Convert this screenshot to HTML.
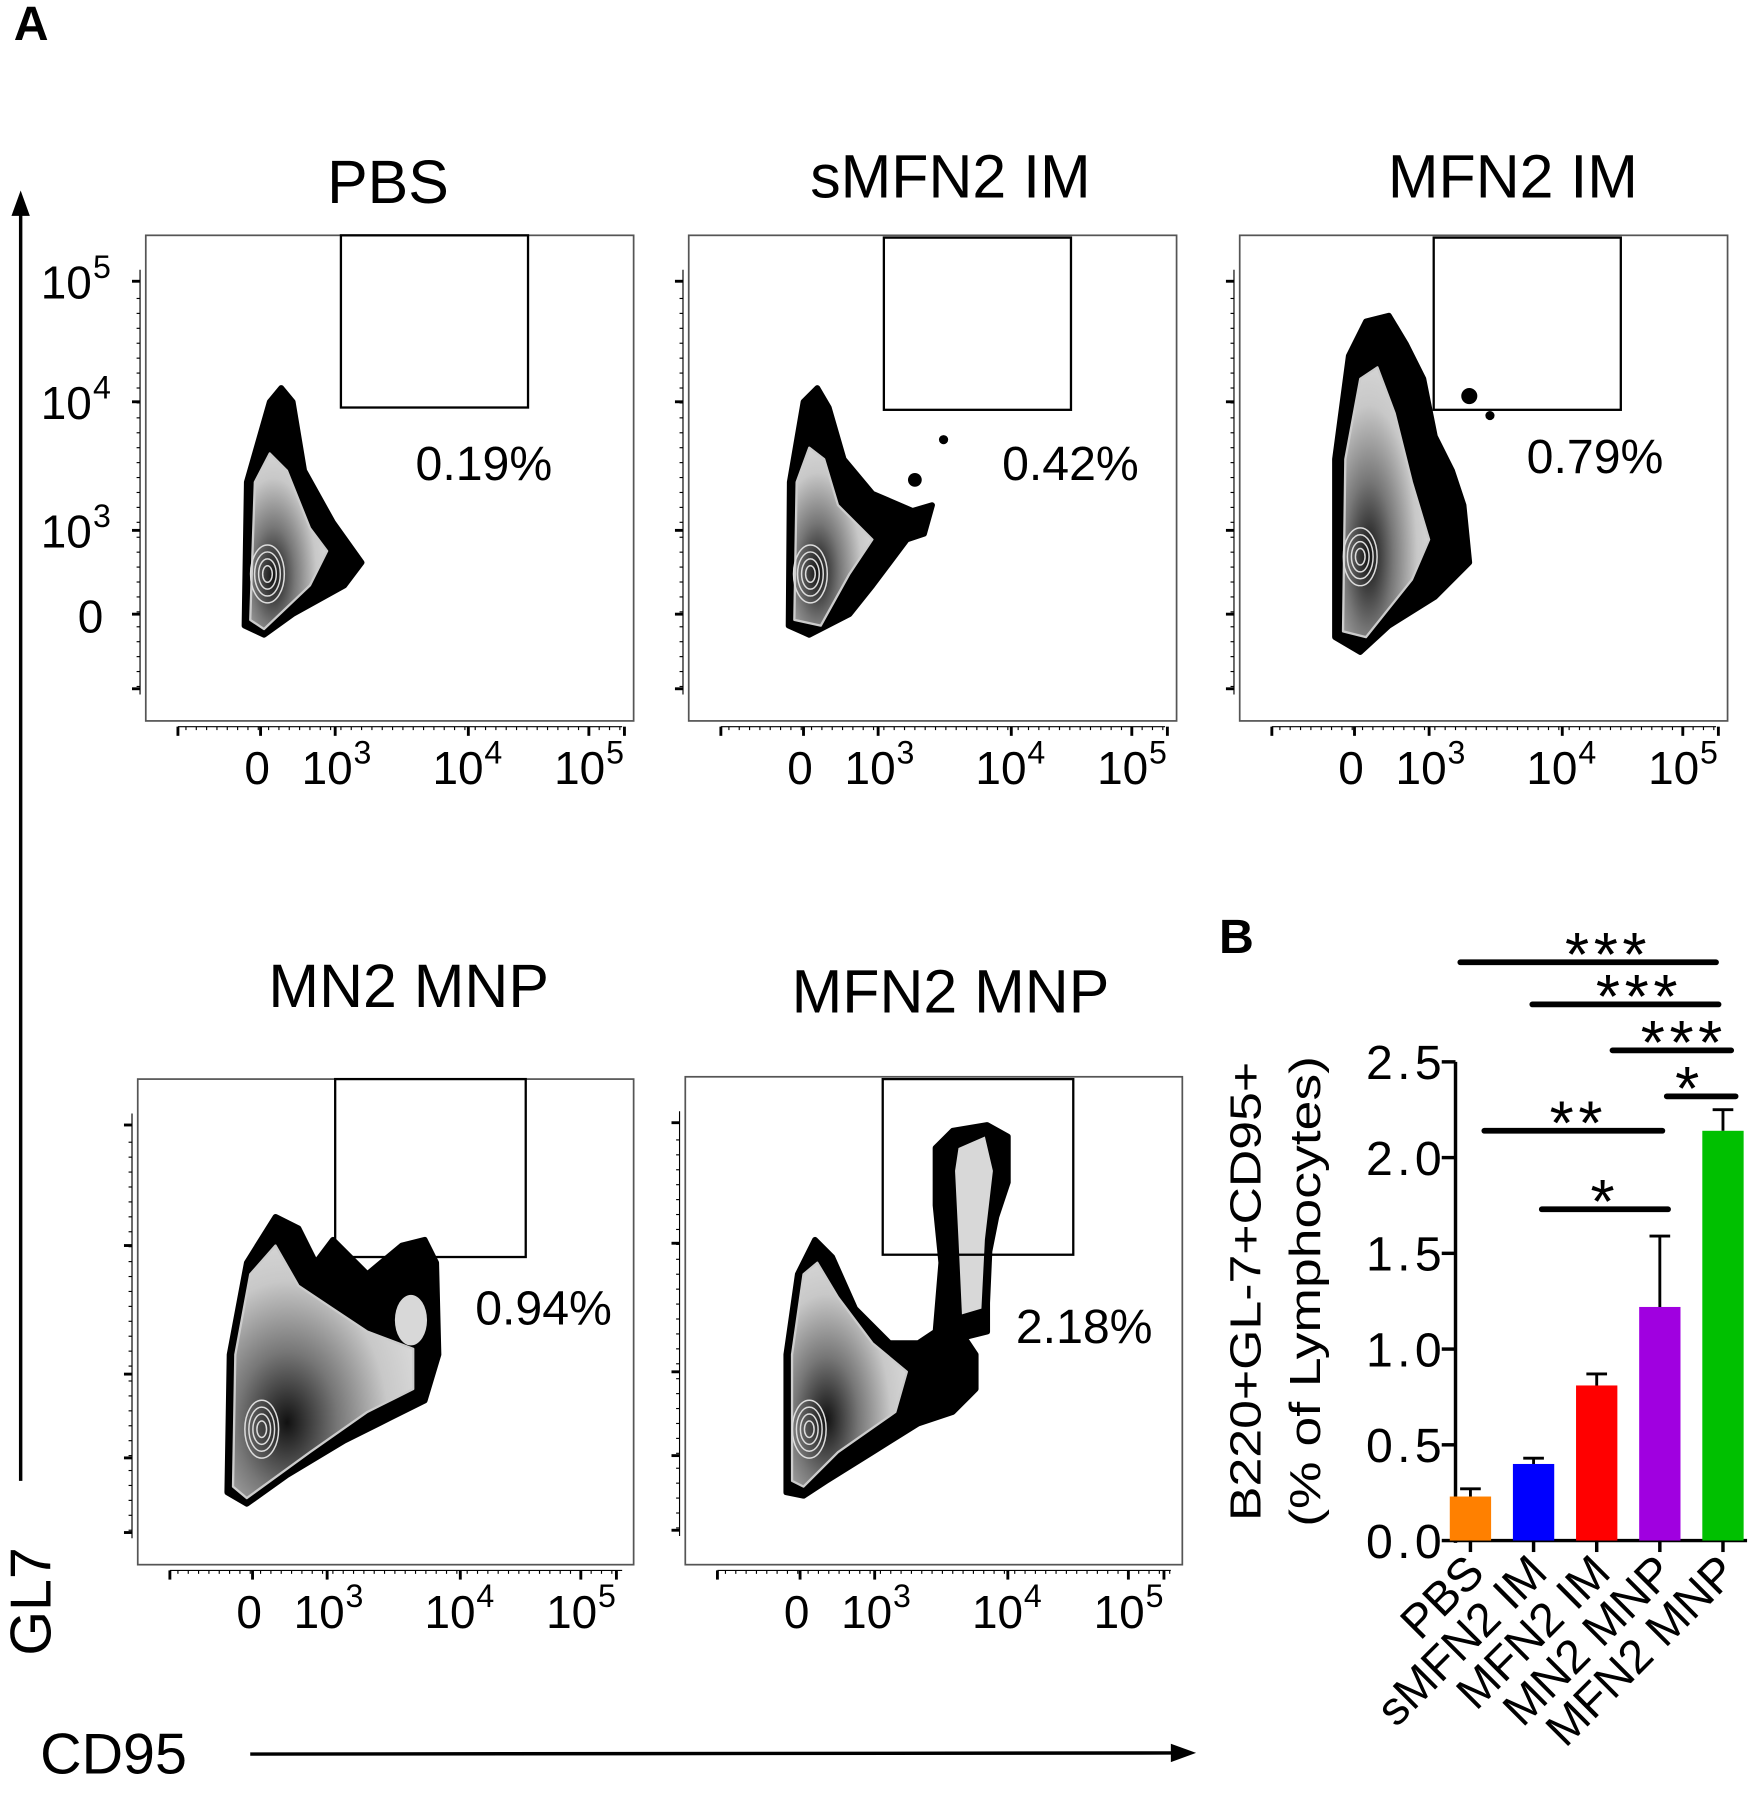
<!DOCTYPE html>
<html><head><meta charset="utf-8"><style>
html,body{margin:0;padding:0;background:#fff}
svg{display:block}
text{font-family:"Liberation Sans",Arial,sans-serif;fill:#000}
</style></head><body>
<svg id="fig" width="1762" height="1800" viewBox="0 0 1535 1568" preserveAspectRatio="none">
<defs>
<radialGradient id="g1" cx="0.3" cy="0.7" r="0.8">
<stop offset="0" stop-color="#111"/><stop offset="0.35" stop-color="#777"/><stop offset="0.7" stop-color="#c8c8c8"/><stop offset="1" stop-color="#dcdcdc"/>
</radialGradient>
</defs>
<text x="12" y="35" font-size="42" font-weight="bold">A</text>
<line x1="18" y1="1290" x2="18" y2="178" stroke="#000" stroke-width="3"/>
<path d="M10,188 L18,166 L26,188 z" fill="#000"/>
<text transform="translate(44,1395) rotate(-90)" font-size="50" text-anchor="middle">GL7</text>
<text x="35" y="1545" font-size="50">CD95</text>
<line x1="218" y1="1528" x2="1025" y2="1527" stroke="#000" stroke-width="3"/>
<path d="M1020,1519 L1042,1527 L1020,1535 z" fill="#000"/>
<g id="flows"></g>
<g id="bars"></g>
</svg>
<script>
var NS="http://www.w3.org/2000/svg";
function mk(tag,attrs,parent,txt){var e=document.createElementNS(NS,tag);for(var k in attrs)e.setAttribute(k,attrs[k]);if(txt!==undefined)e.textContent=txt;parent.appendChild(e);return e;}
var flows=document.getElementById('flows');
var panels=[
 {t:"PBS",tx:338,ty:177,x:127,y:205,w:425,h:423,gate:[297,205,163,150],pct:"0.19%",px:362,py:418,
  outer:[[213,545],[215,420],[235,350],[245,338],[255,350],[265,410],[290,455],[315,490],[300,510],[255,535],[230,553]],
  inner:[[218,540],[222,420],[235,395],[250,410],[270,460],[285,480],[270,510],[230,548]],cx:233,cy:500,dots:[]},
 {t:"sMFN2 IM",tx:828,ty:172,x:600,y:205,w:425,h:423,gate:[770,207,163,150],pct:"0.42%",px:873,py:418,
  outer:[[687,545],[688,420],[700,350],[712,338],[722,355],[735,400],[760,430],[795,445],[812,440],[805,465],[790,470],[760,510],[740,535],[705,553]],
  inner:[[692,540],[694,420],[705,390],[718,400],[730,440],[760,470],[740,500],[715,545]],cx:706,cy:500,dots:[[797,418,6],[822,383,4]]},
 {t:"MFN2 IM",tx:1318,ty:172,x:1080,y:205,w:425,h:423,gate:[1249,207,163,150],pct:"0.79%",px:1330,py:412,
  outer:[[1163,555],[1163,400],[1175,310],[1190,280],[1210,275],[1225,300],[1240,330],[1250,380],[1265,410],[1275,440],[1280,490],[1250,520],[1210,545],[1185,568]],
  inner:[[1170,550],[1172,400],[1185,330],[1200,320],[1215,360],[1230,420],[1245,470],[1230,505],[1190,555]],cx:1185,cy:485,dots:[[1280,345,7],[1298,362,4]]},
 {t:"MN2 MNP",tx:356,ty:877,x:120,y:940,w:432,h:423,gate:[292,940,166,155],pct:"0.94%",px:414,py:1154,
  outer:[[198,1300],[200,1180],[215,1100],[240,1060],[260,1070],[275,1100],[290,1080],[300,1090],[320,1110],[350,1085],[370,1080],[380,1100],[382,1180],[370,1220],[340,1235],[300,1255],[250,1285],[215,1310]],
  inner:[[203,1295],[205,1180],[218,1110],[240,1085],[260,1120],[290,1140],[320,1160],[360,1175],[360,1210],[320,1230],[270,1265],[215,1305]],cx:228,cy:1245,dots:[]},
 {t:"MFN2 MNP",tx:828,ty:882,x:597,y:938,w:433,h:425,gate:[769,940,166,153],pct:"2.18%",px:885,py:1170,
  outer:[[685,1300],[685,1180],[695,1110],[710,1080],[725,1095],[745,1140],[775,1170],[800,1170],[815,1160],[820,1100],[815,1050],[815,1000],[830,985],[860,980],[878,990],[878,1030],[868,1060],[862,1090],[860,1135],[860,1160],[840,1165],[850,1180],[850,1210],[830,1230],[800,1240],[760,1265],[720,1290],[700,1303]],
  inner:[[690,1290],[690,1180],[700,1110],[712,1100],[730,1130],[760,1170],[790,1195],[780,1230],[730,1265],[700,1295]],cx:705,cy:1245,dots:[],
  stalk:[[835,1000],[858,990],[865,1020],[858,1080],[855,1140],[838,1145],[835,1080],[832,1020]]}
];
var ylabs=["10","10","10","0"],ysup=["5","4","3",""];
panels.forEach(function(p,i){
 var g=mk('g',{},flows);
 
 
 var t=mk('text',{x:p.tx,y:p.ty,'font-size':53,'text-anchor':'middle'},g,p.t);
 
 
 var f=mk('rect',{x:p.x,y:p.y,width:p.w,height:p.h,fill:'none',stroke:'#555','stroke-width':1.5},g);
 
 
 var pts=function(a){return a.map(function(q){return q.join(',');}).join(' ');};
 var o=mk('polygon',{points:pts(p.outer),fill:'#000',stroke:'#000','stroke-width':5,'stroke-linejoin':'round'},g);
 
 
 var n=mk('polygon',{points:pts(p.inner),fill:'url(#g1)',stroke:'#ccc','stroke-width':2,'stroke-linejoin':'round'},g);
 
 
 if(p.stalk){var s=mk('polygon',{points:pts(p.stalk),fill:'#d8d8d8'},g);
  
  }
 if(i===3){mk('ellipse',{cx:358,cy:1150,rx:14,ry:22,fill:'#d8d8d8'},g);}
 [6,11,16,21].forEach(function(r){mk('ellipse',{cx:p.cx,cy:p.cy,rx:r*0.7,ry:r*1.2,fill:'none',stroke:'#ddd','stroke-width':1.3},g);});
 p.dots.forEach(function(d){mk('circle',{cx:d[0],cy:d[1],r:d[2],fill:'#000'},g);});
 var gr=mk('rect',{x:p.gate[0],y:p.gate[1],width:p.gate[2],height:p.gate[3],fill:'none',stroke:'#000','stroke-width':2},g);
 
 
 var pc=mk('text',{x:p.px,y:p.py,'font-size':42},g,p.pct);
 
 
 var yl=p.x-5, ys=[p.y+40,p.y+145,p.y+257,p.y+330,p.y+395];
 for(var k=0;k<ys.length;k++){mk('line',{x1:yl-7,y1:ys[k],x2:yl,y2:ys[k],stroke:'#000','stroke-width':2.5},g);}
 for(var k=p.y+55;k<p.y+400;k+=13){mk('line',{x1:yl-3,y1:k,x2:yl,y2:k,stroke:'#000','stroke-width':1},g);}
 mk('line',{x1:yl,y1:p.y+30,x2:yl,y2:p.y+400,stroke:'#000','stroke-width':1},g);
 if(i===0){
  var yy=[260,365,477,551];
  for(var k=0;k<4;k++){var tt=mk('text',{x:ysup[k]?80:90,y:yy[k],'font-size':40,'text-anchor':'end'},g,ylabs[k]);
   
   
   if(ysup[k])mk('text',{x:81,y:yy[k]-18,'font-size':28},g,ysup[k]);}
 }
 var xy=p.y+p.h+5, ox=p.x;
 mk('line',{x1:ox+28,y1:xy,x2:ox+p.w-10,y2:xy,stroke:'#000','stroke-width':1},g);
 [28,100,165,281,386,417].forEach(function(d){mk('line',{x1:ox+d,y1:xy,x2:ox+d,y2:xy+8,stroke:'#000','stroke-width':2.5},g);});
 for(var k=ox+35;k<ox+p.w-10;k+=9){mk('line',{x1:k,y1:xy,x2:k,y2:xy+3,stroke:'#000','stroke-width':1},g);}
 var ly=xy+50;
 var xl=[[97,"0",""],[158,"10","3"],[272,"10","4"],[378,"10","5"]];
 xl.forEach(function(q){var tt=mk('text',{x:ox+q[0],y:ly,'font-size':40,'text-anchor':'middle'},g,q[1]);
  
  
  if(q[2])mk('text',{x:ox+q[0]+23,y:ly-18,'font-size':28},g,q[2]);});
});

// ---- Bar chart B ----
var categories=["PBS","sMFN2 IM","MFN2 IM","MN2 MNP","MFN2 MNP"];
var means=[0.23,0.40,0.81,1.22,2.14];
var errors=[0.04,0.03,0.06,0.37,0.11];
var colors=["#ff8000","#0000ff","#ff0000","#a000e0","#00c000"];
var yTicks=[0,0.5,1.0,1.5,2.0,2.5];
var yTickLabels=["0.0","0.5","1.0","1.5","2.0","2.5"];
var sigFrom=[-0.16,0.98,2.25,3.11,0.22,1.13];
var sigTo=[3.89,3.93,4.13,4.2,3.04,3.13];
var sigLabelPos=[2.18,2.67,3.38,3.47,1.71,2.13];
var sigLabels=["***","***","***","*","**","*"];
var sigY=[3.02,2.80,2.56,2.32,2.14,1.73];

var bars=document.getElementById('bars');
var X0=1268,Y0=1342,YS=(1342-925)/2.5,BW=55;
function ys(v){return Y0-v*YS;}
function xc(i){return X0+13+BW*i;}
var bl=mk('text',{x:1062,y:830,'font-size':42,'font-weight':'bold'},bars,'B');


var ya=mk('line',{x1:X0,y1:ys(2.5),x2:X0,y2:Y0+2,stroke:'#000','stroke-width':3},bars);


var xa=mk('line',{x1:X0-2,y1:Y0,x2:1522,y2:Y0,stroke:'#000','stroke-width':3},bars);


yTicks.forEach(function(v,i){
 mk('line',{x1:X0-12,y1:ys(v),x2:X0,y2:ys(v),stroke:'#000','stroke-width':3},bars);
 var t=mk('text',{x:X0-12,y:ys(v)+15,'font-size':42,'text-anchor':'end',textLength:66},bars,yTickLabels[i]);
 
 
});
var yt=mk('text',{transform:'translate(1098,1125) rotate(-90)','font-size':38,'text-anchor':'middle',textLength:400,lengthAdjust:'spacingAndGlyphs'},bars,'B220+GL-7+CD95+');


var yt2=mk('text',{transform:'translate(1150,1125) rotate(-90)','font-size':38,'text-anchor':'middle',textLength:410,lengthAdjust:'spacingAndGlyphs'},bars,'(% of Lymphocytes)');


categories.forEach(function(c,i){
 var x=xc(i),w=36;
 var r=mk('rect',{x:x-w/2,y:ys(means[i]),width:w,height:Y0-ys(means[i]),fill:colors[i]},bars);
 
 
 var e=mk('path',{d:'M'+x+','+ys(means[i])+' V'+ys(means[i]+errors[i])+' M'+(x-9)+','+ys(means[i]+errors[i])+' H'+(x+9),stroke:'#000','stroke-width':2.5,fill:'none'},bars);
 
 
 mk('line',{x1:x,y1:Y0,x2:x,y2:Y0+10,stroke:'#000','stroke-width':3},bars);
 var t=mk('text',{transform:'translate('+(x+14)+','+(Y0+30)+') rotate(-45)','font-size':41,'text-anchor':'end'},bars,c);
 
 
});
sigLabels.forEach(function(s,i){
 var x1=xc(sigFrom[i]),x2=xc(sigTo[i]),y=ys(sigY[i]);
 var l=mk('line',{x1:x1,y1:y,x2:x2,y2:y,stroke:'#000','stroke-width':5,'stroke-linecap':'round'},bars);
 
 
 var t=mk('text',{x:xc(sigLabelPos[i]),y:y+12,'font-size':54,'letter-spacing':4,'text-anchor':'middle'},bars,s);
 
 
});
</script>
</body></html>
